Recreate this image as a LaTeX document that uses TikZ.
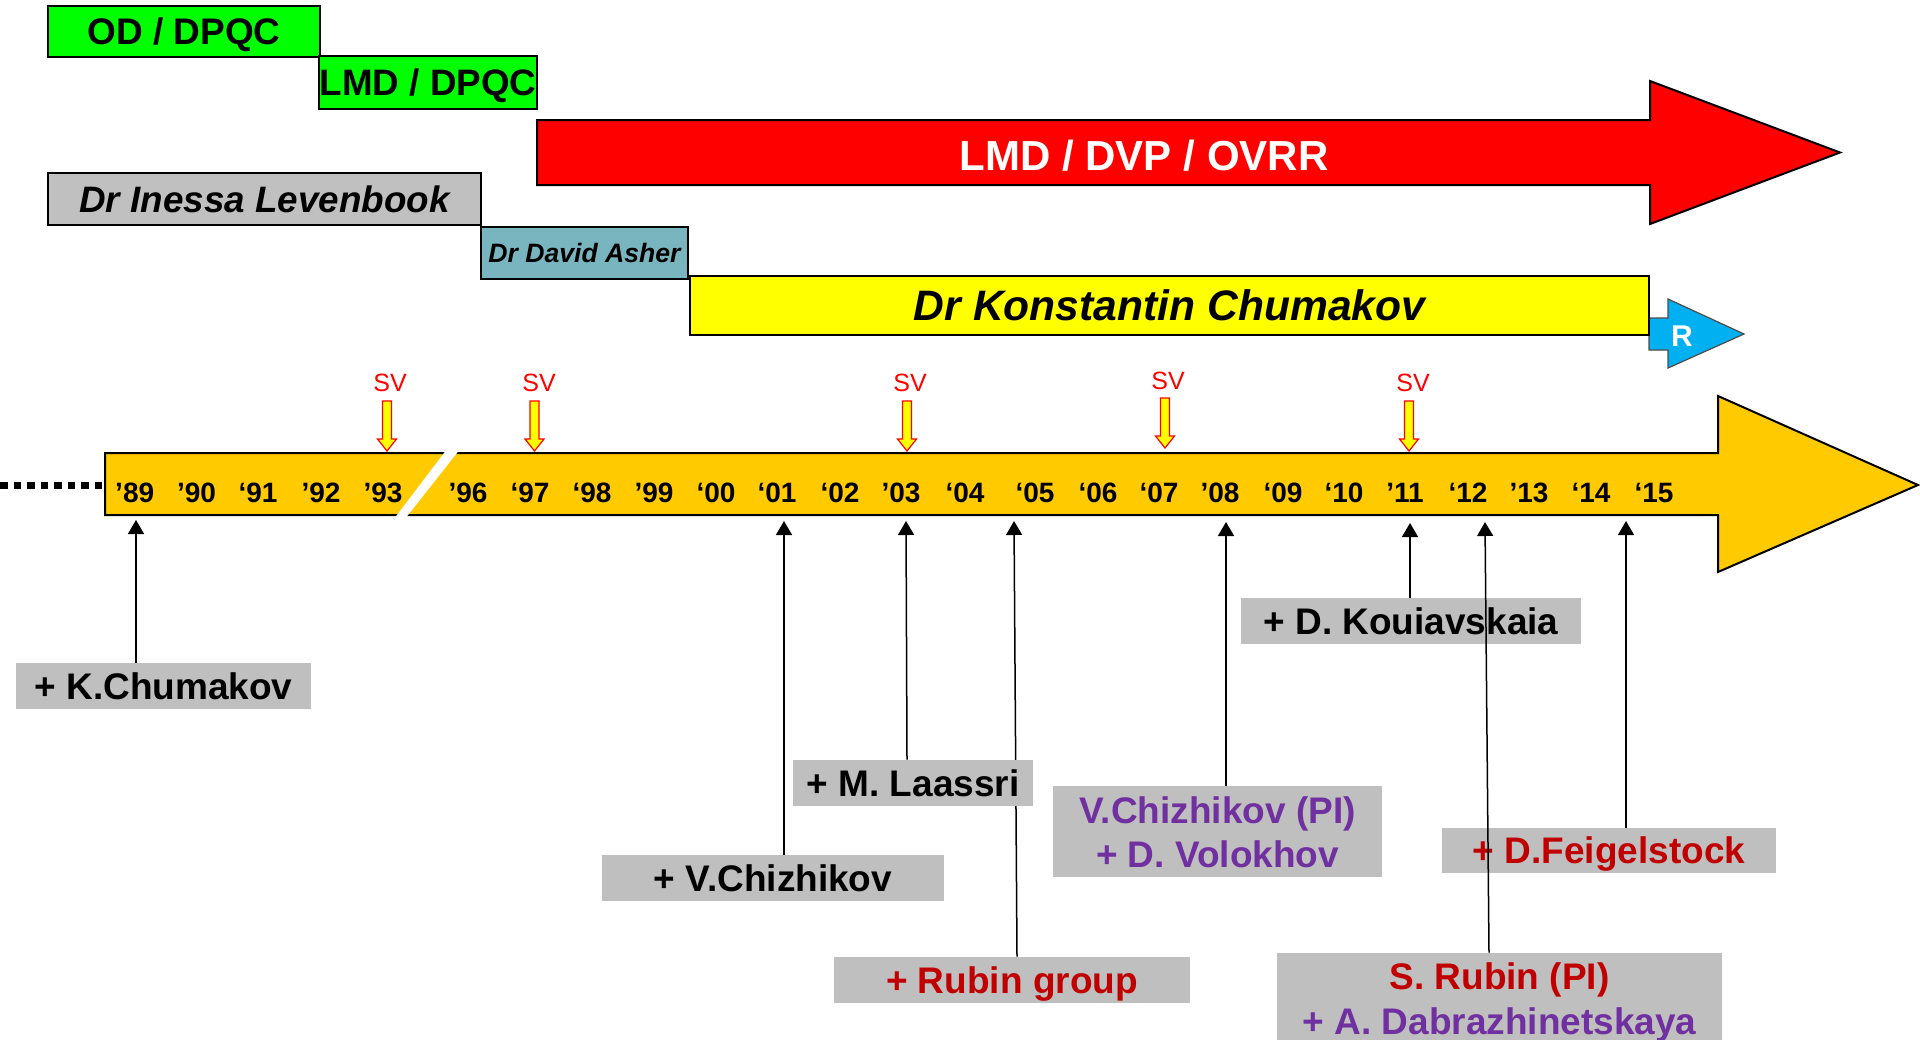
\documentclass[tikz,border=0pt]{standalone}
\usepackage{fontspec}
\setmainfont{Liberation Sans}
\usetikzlibrary{arrows.meta}
\definecolor{cGreen}{HTML}{00FF00}
\definecolor{cRedA}{HTML}{FF0000}
\definecolor{cGreyH}{HTML}{C0C0C0}
\definecolor{cTeal}{HTML}{78B5BE}
\definecolor{cYel}{HTML}{FFFF00}
\definecolor{cBlue}{HTML}{00B0F0}
\definecolor{cTime}{HTML}{FFCA00}
\definecolor{cLbl}{HTML}{BFBFBF}
\definecolor{cDkRed}{HTML}{C00000}
\definecolor{cPurple}{HTML}{7030A0}
\definecolor{cSV}{HTML}{FF0000}
\tikzset{
  hdr/.style={draw=black, line width=1pt, inner sep=0pt, text depth=0pt},
  lbl/.style={fill=cLbl, inner sep=0pt, font=\fontsize{18.5}{22}\selectfont\bfseries, text height=13.25pt, text depth=0pt},
  lbltxt/.style={inner sep=0pt, font=\fontsize{18.5}{22}\selectfont\bfseries, text height=13.25pt, text depth=0pt},
  uparr/.style={line width=0.75pt, -{Triangle[length=7pt,width=8pt]}},
  yr/.style={font=\fontsize{14}{16}\selectfont\bfseries, inner sep=0pt, text height=10pt, text depth=0pt},
  svtxt/.style={text=cSV, font=\fontsize{12.5}{14}\selectfont, inner sep=0pt, text height=9pt, text depth=0pt},
  svarrow/.pic={\filldraw[fill=cYel, draw=cSV, line width=0.6pt] (-4.5,-50) -- (4.5,-50) -- (4.5,-12) -- (9.5,-12) -- (0,0) -- (-9.5,-12) -- (-4.5,-12) -- cycle;}
}
\begin{document}
\begin{tikzpicture}[x=0.5pt,y=-0.5pt]
\useasboundingbox (0,0) rectangle (1920,1039);

% --- header bars ---
\node[hdr, fill=cGreen, minimum width=136pt, minimum height=25.5pt,
      font=\fontsize{18.5}{22}\selectfont\bfseries, text height=13.25pt] (od) at (184,31.5) {OD / DPQC};
\node[hdr, fill=cGreen, minimum width=109pt, minimum height=26.5pt,
      font=\fontsize{18.4}{22}\selectfont\bfseries, text height=13.2pt] (lmd) at (428,82.5) {LMD / DPQC};

\filldraw[fill=cRedA, draw=black, line width=1pt]
  (537,120) -- (1650,120) -- (1650,81) -- (1840,152.5) -- (1650,224) -- (1650,185) -- (537,185) -- cycle;
\node[inner sep=0pt, text=white, font=\fontsize{21}{25}\selectfont\bfseries, text height=15pt, text depth=0pt]
  (ovrr) at (1144,155) {LMD / DVP / OVRR};

\node[hdr, fill=cGreyH, minimum width=216.5pt, minimum height=26pt,
      font=\fontsize{18.4}{22}\selectfont\bfseries\itshape, text height=13.2pt] (lev) at (264.5,199) {Dr Inessa Levenbook};
\node[hdr, fill=cTeal, minimum width=103.5pt, minimum height=26pt,
      font=\fontsize{13.3}{16}\selectfont\bfseries\itshape, text height=9.5pt] (asher) at (584.5,253) {Dr David Asher};

\filldraw[fill=cBlue, draw=black!70, line width=0.6pt]
  (1649,318) -- (1668,318) -- (1668,299) -- (1744,334) -- (1668,368) -- (1668,350) -- (1649,350) -- cycle;
\node[inner sep=0pt, text=white, font=\fontsize{15}{18}\selectfont\bfseries, text height=10.7pt, text depth=0pt]
  (rlab) at (1682,336) {R};

\node[hdr, line width=1.4pt, fill=cYel, minimum width=479.5pt, minimum height=29.5pt,
      font=\fontsize{21.3}{25}\selectfont\bfseries\itshape, text height=15.25pt] (kbar) at (1169.5,305.5) {Dr Konstantin Chumakov};

% --- timeline ---
\draw[line width=3.5pt, dash pattern=on 3.75pt off 3pt] (0,485) -- (105,485);
\filldraw[fill=cTime, draw=black, line width=1pt]
  (105,453) -- (1718,453) -- (1718,396) -- (1918,485) -- (1718,572) -- (1718,515) -- (105,515) -- cycle;
\fill[white] (446.3,450) -- (459.3,450) -- (405.7,518) -- (394.7,518) -- cycle;

\foreach \x/\n/\t in {134.7/89/’89, 196.5/90/’90, 258/91/‘91, 321/92/’92, 383/93/’93,
  468/96/’96, 530/97/‘97, 592/98/‘98, 654/99/’99, 716/00/‘00, 777/01/‘01, 840/02/‘02,
  901/03/’03, 965/04/‘04, 1035/05/‘05, 1098/06/‘06, 1159/07/‘07, 1220/08/’08, 1283/09/‘09,
  1344/10/‘10, 1405/11/’11, 1468/12/‘12, 1529/13/’13, 1591/14/‘14, 1654/15/‘15}
  \node[yr] (y\n) at (\x,492) {\t};

% --- SV markers ---
\pic at (387,451) {svarrow};
\pic at (534.5,451) {svarrow};
\pic at (907,451) {svarrow};
\pic at (1165,448) {svarrow};
\pic at (1409,451) {svarrow};
\node[svtxt] (sv93) at (390,382) {SV};
\node[svtxt] (sv97) at (539,382) {SV};
\node[svtxt] (sv03) at (910,382) {SV};
\node[svtxt] (sv07) at (1168,380) {SV};
\node[svtxt] (sv11) at (1413,382) {SV};

% --- arrow end points on the timeline ---
\coordinate (a89) at (136,520);
\coordinate (a01) at (784,521);
\coordinate (a03) at (906,521);
\coordinate (a05) at (1014,521);
\coordinate (a08) at (1226,522);
\coordinate (a11) at (1410,523);
\coordinate (a12) at (1485,522);
\coordinate (a14) at (1626,521);

% --- labels ---
\node[lbl, minimum width=178pt, minimum height=23pt, text=cDkRed] (rubgrp) at (1012,980) {+ Rubin group};
\draw[uparr] ([xshift=1.5pt]a05 |- rubgrp.north) -- (a05);

\node[lbl, minimum width=147.5pt, minimum height=23pt] (kchum) at (163.5,686) {+ K.Chumakov};
\node[lbl, minimum width=171pt, minimum height=23pt] (vchiz) at (773,878) {+ V.Chizhikov};
\node[lbl, minimum width=120pt, minimum height=23pt] (laassri) at (913,783) {+ M. Laassri};
\node[lbl, minimum width=170pt, minimum height=23pt] (kouia) at (1411,621) {+ D. Kouiavskaia};
\node[lbl, minimum width=167pt, minimum height=22.5pt, text=cDkRed] (feig) at (1609,850.5) {+ D.Feigelstock};

\node[lbl, minimum width=164.5pt, minimum height=45.5pt] (chizpi) at (1217.5,831.5) {};
\node[lbltxt, text=cPurple] (chizpiA) at (1217.5,810) {V.Chizhikov (PI)};
\node[lbltxt, text=cPurple] (chizpiB) at (1217.5,854) {+ D. Volokhov};

\node[lbl, minimum width=222.5pt, minimum height=46pt] (srubin) at (1499.5,999) {};
\node[lbltxt, text=cDkRed] (srubinA) at (1499.5,976) {S. Rubin (PI)};
\node[lbltxt, text=cPurple] (srubinB) at (1499.5,1021) {+ A. Dabrazhinetskaya};

% --- connectors ---
\draw[uparr] (a89 |- kchum.north) -- (a89);
\draw[uparr] (a01 |- vchiz.north) -- (a01);
\draw[uparr] ([xshift=0.5pt]a03 |- laassri.north) -- (a03);
\draw[uparr] (a08 |- chizpi.north) -- (a08);
\draw[uparr] (a11 |- kouia.north) -- (a11);
\draw[uparr] ([xshift=2pt]a12 |- srubin.north) -- (a12);
\draw[uparr] (a14 |- feig.north) -- (a14);
\end{tikzpicture}
\end{document}
